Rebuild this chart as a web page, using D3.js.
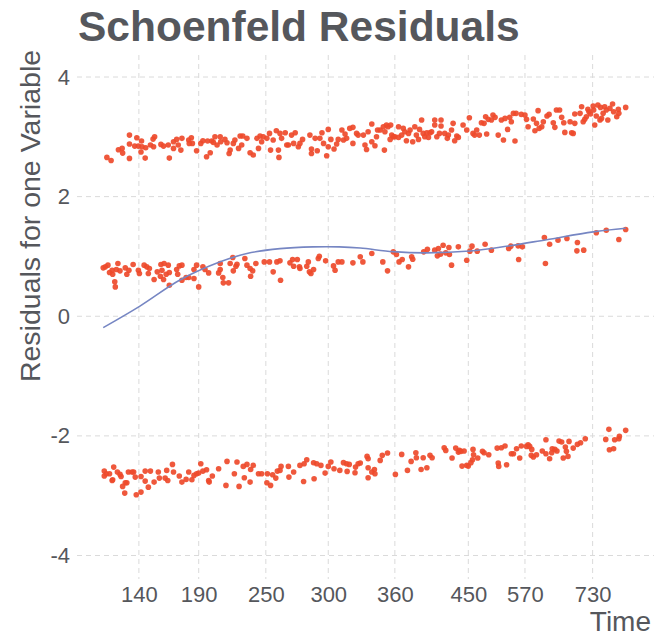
<!DOCTYPE html>
<html><head><meta charset="utf-8">
<script src="https://cdn.jsdelivr.net/npm/d3@7"></script>
<style>body{margin:0;background:#fff;} svg{display:block;font-family:"Liberation Sans",Arial,Helvetica,sans-serif;}</style>
</head><body><svg id="c" width="663" height="636"></svg>
<script>
// transformed time (0..1) and residual values
const upperBand = [
[.007,2.656],[.015,2.605],[.029,2.784],[.036,2.806],[.037,2.728],[.050,3.029],[.050,2.879],[.050,2.639],[.060,2.845],[.064,2.985],
[.067,2.845],[.072,2.745],[.073,2.929],[.074,2.834],[.080,2.644],[.081,2.817],[.090,2.862],[.095,2.962],[.098,3.001],[.096,2.834],
[.110,2.873],[.115,2.845],[.124,2.862],[.126,2.644],[.134,2.918],[.134,2.806],[.140,2.957],[.143,2.862],[.148,2.778],[.150,2.974],
[.163,2.946],[.164,2.890],[.168,2.985],[.170,2.890],[.178,2.767],[.186,2.890],[.190,2.934],[.197,2.667],[.199,2.929],[.204,2.734],
[.207,2.929],[.210,2.907],[.213,3.001],[.217,2.862],[.223,3.001],[.224,2.918],[.232,2.957],[.236,2.901],[.240,2.722],[.242,2.778],
[.248,2.890],[.251,2.946],[.258,2.806],[.261,3.013],[.264,2.862],[.266,3.013],[.274,2.974],[.280,2.734],[.286,2.695],[.293,2.974],
[.296,2.806],[.299,3.013],[.302,2.918],[.305,3.001],[.312,2.974],[.317,3.057],[.319,2.778],[.324,2.946],[.330,3.102],[.334,2.778],
[.335,2.656],[.337,3.057],[.340,2.974],[.347,3.068],[.350,2.862],[.353,2.862],[.359,3.029],[.363,2.890],[.366,3.068],[.372,2.834],
[.375,2.890],[.380,2.957],[.394,3.029],[.397,2.795],[.397,2.722],[.404,2.974],[.408,2.767],[.413,2.974],[.417,3.068],[.420,2.890],
[.426,2.683],[.429,3.124],[.429,2.834],[.434,2.957],[.440,2.795],[.445,2.879],[.448,2.957],[.455,3.113],[.458,2.946],[.461,3.046],
[.464,2.974],[.470,3.141],[.476,3.158],[.476,2.890],[.483,3.057],[.486,3.029],
[.496,3.029],[.499,2.862],[.502,2.789],[.505,3.085],[.512,3.213],[.512,2.918],[.518,2.851],[.521,3.001],[.523,3.113],[.528,3.113],
[.534,3.169],[.536,2.778],[.537,3.085],[.540,3.197],[.543,3.169],[.547,2.957],[.548,3.197],[.550,3.029],[.553,3.001],[.556,3.001],
[.563,3.169],[.563,2.990],[.569,3.029],[.572,3.141],[.575,3.085],[.578,2.934],[.582,3.057],[.585,3.113],[.590,2.918],[.594,3.169],
[.597,3.029],[.601,2.957],[.603,3.124],[.607,3.280],[.610,3.057],[.613,3.001],[.617,3.068],[.620,2.990],[.623,3.068],[.626,3.085],
[.632,3.280],[.632,3.197],[.636,3.001],[.641,3.057],[.644,3.280],[.644,3.180],[.651,3.057],[.656,2.974],[.658,3.029],[.664,3.113],
[.667,3.225],[.670,2.934],[.674,3.013],[.677,2.990],[.686,3.197],[.693,3.113],[.698,3.319],[.705,3.057],[.708,3.029],[.712,3.113],
[.717,3.029],[.721,3.236],[.726,3.225],[.729,3.336],[.731,3.046],[.734,3.292],[.740,3.280],[.743,3.364],[.747,3.325],[.753,3.029],
[.759,3.280],[.763,2.946],[.766,3.308],[.771,3.124],[.775,3.325],[.778,3.252],[.782,3.392],[.785,2.929],[.787,3.392],[.797,3.375],
[.804,3.364],[.807,3.292],[.810,3.169],[.820,3.297],[.823,3.102],[.826,3.225],[.829,3.437],[.831,3.141],[.836,3.169],[.839,3.252],
[.846,3.347],[.850,3.375],[.858,3.236],[.861,3.158],[.864,3.448],[.870,3.448],[.874,3.325],[.878,3.236],[.880,3.074],[.890,3.252],
[.893,3.068],[.896,3.057],[.899,3.225],[.899,3.381],[.909,3.392],[.912,3.503],[.915,3.252],[.918,3.292],[.921,3.336],[.924,3.459],
[.926,3.420],[.929,3.381],[.934,3.515],[.935,3.448],[.937,3.197],[.940,3.347],[.943,3.531],[.947,3.280],[.948,3.492],[.950,3.308],
[.953,3.392],[.956,3.503],[.959,3.448],[.962,3.280],[.966,3.476],[.971,3.548],[.973,3.420],[.979,3.336],[.982,3.459],[.983,3.392],
[.996,3.492]
];
const middleBand = [
[.000,.809],[.004,.826],[.009,.854],[.012,.731],[.017,.770],[.018,.703],[.022,.575],[.023,.491],[.025,.781],[.028,.881],
[.032,.759],[.042,.809],[.045,.703],[.049,.770],[.057,.865],[.067,.770],[.069,.714],[.078,.854],[.083,.826],[.086,.714],
[.088,.798],[.097,.614],[.103,.742],[.109,.669],[.110,.865],[.112,.770],[.115,.614],[.116,.881],[.120,.703],[.124,.854],
[.126,.731],[.126,.519],[.140,.781],[.142,.703],[.145,.842],[.150,.854],[.150,.603],[.158,.647],[.163,.647],[.173,.781],
[.173,.630],[.178,.854],[.182,.491],[.190,.826],[.194,.781],[.201,.725],[.220,.725],[.223,.881],[.223,.781],[.228,.647],
[.229,.558],[.239,.558],[.242,.881],[.247,.982],[.248,.759],[.253,.837],[.255,.870],[.270,.965],[.274,.854],[.280,.798],
[.281,.669],[.285,.759],[.291,.881],[.307,.909],[.317,.909],[.324,.742],[.331,.909],[.337,.926],[.338,.603],[.356,.893],
[.361,.948],[.363,.837],[.370,.948],[.374,.826],[.375,.798],[.388,.837],[.391,.909],[.393,.742],[.396,.714],[.401,.781],
[.410,.965],[.412,1.004],[.424,.926],[.439,.842],[.442,.770],[.448,.909],
[.455,.909],[.476,.893],[.490,.993],[.495,.909],[.512,1.049],[.533,.909],[.542,.759],[.553,1.077],[.559,1.032],[.564,.909],
[.570,.948],[.582,.826],[.588,.993],[.590,.954],[.611,1.077],[.618,1.121],[.632,1.105],[.637,1.010],[.639,1.133],[.643,1.038],
[.648,1.188],[.653,1.060],[.659,1.149],[.660,1.032],[.664,.854],[.677,1.160],[.693,.937],[.699,1.088],[.703,1.172],[.713,1.088],
[.728,1.205],[.740,1.105],[.773,1.133],[.777,1.172],[.791,1.177],[.792,.948],[.799,1.160],[.841,1.317],[.843,.881],[.851,1.205],
[.867,1.272],[.884,1.300],[.904,1.233],[.903,1.093],[.916,1.105],[.940,1.395],[.959,1.439],[.983,1.283],[.996,1.450]
];
const lowerBand = [
[.002,-2.589],[.002,-2.672],[.006,-2.633],[.012,-2.633],[.017,-2.745],[.018,-2.734],[.020,-2.522],[.027,-2.605],[.032,-2.644],[.034,-2.678],
[.037,-2.845],[.041,-2.957],[.042,-2.784],[.045,-2.784],[.048,-2.605],[.055,-2.605],[.058,-2.605],[.061,-2.689],[.063,-2.985],[.072,-2.678],
[.072,-2.940],[.080,-2.589],[.080,-2.756],[.086,-2.857],[.090,-2.589],[.097,-2.773],[.105,-2.605],[.107,-2.706],[.118,-2.706],[.121,-2.577],
[.123,-2.745],[.132,-2.477],[.134,-2.605],[.145,-2.672],[.150,-2.773],[.158,-2.728],[.163,-2.605],[.169,-2.734],[.173,-2.661],[.178,-2.633],
[.182,-2.622],[.186,-2.466],[.190,-2.589],[.197,-2.566],[.201,-2.745],[.202,-2.773],[.208,-2.672],[.220,-2.550],[.234,-2.828],[.236,-2.427],
[.250,-2.633],[.255,-2.438],[.259,-2.845],[.267,-2.510],[.269,-2.700],[.274,-2.477],[.280,-2.773],[.281,-2.561],[.286,-2.494],[.296,-2.633],
[.302,-2.633],[.312,-2.784],[.313,-2.633],[.319,-2.828],[.323,-2.650],[.329,-2.706],[.332,-2.589],[.337,-2.577],[.339,-2.510],[.353,-2.510],
[.354,-2.689],[.363,-2.605],[.375,-2.494],[.382,-2.762],[.383,-2.466],[.388,-2.399],[.401,-2.449],[.402,-2.717],[.407,-2.466],[.415,-2.494],
[.423,-2.622],[.429,-2.510],[.434,-2.438],[.440,-2.550],
[.451,-2.577],[.458,-2.448],[.464,-2.466],[.465,-2.594],[.469,-2.477],[.480,-2.616],[.481,-2.522],[.486,-2.466],[.490,-2.454],[.503,-2.343],
[.505,-2.382],[.505,-2.533],[.505,-2.700],[.512,-2.605],[.517,-2.561],[.518,-2.633],[.528,-2.410],[.532,-2.326],[.542,-2.287],[.557,-2.644],
[.569,-2.310],[.580,-2.577],[.587,-2.427],[.596,-2.282],[.597,-2.365],[.606,-2.561],[.610,-2.365],[.617,-2.533],[.623,-2.326],[.627,-2.365],
[.650,-2.198],[.653,-2.243],[.665,-2.371],[.672,-2.204],[.677,-2.271],[.679,-2.243],[.682,-2.259],[.688,-2.254],[.684,-2.505],[.693,-2.494],
[.696,-2.505],[.701,-2.448],[.705,-2.226],[.706,-2.315],[.704,-2.399],[.714,-2.371],[.723,-2.259],[.726,-2.282],[.735,-2.315],[.751,-2.204],
[.753,-2.454],[.754,-2.510],[.759,-2.198],[.766,-2.170],[.769,-2.483],[.778,-2.299],[.782,-2.299],[.788,-2.215],[.794,-2.371],[.797,-2.170],
[.807,-2.176],[.810,-2.148],[.813,-2.176],[.817,-2.226],[.816,-2.326],[.820,-2.354],[.826,-2.315],[.837,-2.254],[.844,-2.064],[.844,-2.299],
[.851,-2.382],[.855,-2.282],[.856,-2.215],[.861,-2.226],[.865,-2.254],[.869,-2.087],[.874,-2.103],[.877,-2.371],[.881,-2.187],[.883,-2.259],
[.886,-2.343],[.888,-2.092],[.896,-2.204],[.904,-2.142],[.910,-2.114],[.919,-2.047],[.958,-2.059],[.964,-1.891],[.965,-2.232],[.973,-2.215],
[.975,-2.064],[.983,-2.047],[.984,-2.008],[.996,-1.908]
];
const smoothFit = [
[0,-0.19],[0.07,0.17],[0.147,0.61],[0.223,0.91],[0.274,1.05],[0.337,1.13],[0.40,1.16],[0.45,1.16],[0.49,1.14],
[0.553,1.08],[0.617,1.06],[0.699,1.09],[0.769,1.17],[0.845,1.28],[0.934,1.41],[0.996,1.47]
];
const xTickPos = [0.068,0.182,0.310,0.429,0.556,0.696,0.804,0.933];
const xTickLabels = ["140","190","250","300","360","450","570","730"];
const yTicks = [-4,-2,0,2,4];
const titleText = "Schoenfeld Residuals";
const xTitle = "Time";
const yTitle = "Residuals for one Variable";

const svg = d3.select("#c");
const P = {left:77, right:654, top:55, bottom:579};
const x = d3.scaleLinear().domain([-0.05,1.05]).range([P.left,P.right]);
const y = d3.scaleLinear().domain([-4,4]).range([555.5,77]);
const textCol = "#55575c";
const gridCol = "#dadada";

// grid
const g = svg.append("g");
g.selectAll("line.h").data(yTicks).join("line")
  .attr("x1",P.left).attr("x2",P.right)
  .attr("y1",d=>y(d)).attr("y2",d=>y(d))
  .attr("stroke",gridCol).attr("stroke-width",1).attr("stroke-dasharray","5,4");
g.selectAll("line.v").data(xTickPos).join("line")
  .attr("y1",P.top).attr("y2",P.bottom)
  .attr("x1",d=>x(d)).attr("x2",d=>x(d))
  .attr("stroke",gridCol).attr("stroke-width",1).attr("stroke-dasharray","5,4");

// axes
const xAxis = svg.append("g").attr("transform",`translate(0,${P.bottom})`)
  .call(d3.axisBottom(x).tickValues(xTickPos).tickFormat((d,i)=>xTickLabels[i]).tickSize(0).tickPadding(7));
const yAxis = svg.append("g").attr("transform",`translate(${P.left},0)`)
  .call(d3.axisLeft(y).tickValues(yTicks).tickFormat(d=>String(d)).tickSize(0).tickPadding(7));
[xAxis,yAxis].forEach(a=>{
  a.select(".domain").remove();
  a.selectAll("text").attr("fill",textCol).style("font-size","22px").style("font-family","'Liberation Sans',Arial,sans-serif");
});

// points
const allPts = upperBand.concat(middleBand, lowerBand);
svg.append("g").selectAll("circle").data(allPts).join("circle")
  .attr("cx",d=>x(d[0])).attr("cy",d=>y(d[1])).attr("r",2.8)
  .attr("fill","#ee4a2b").attr("fill-opacity",0.92);

// smooth
svg.append("path").datum(smoothFit)
  .attr("d",d3.line().x(d=>x(d[0])).y(d=>y(d[1])).curve(d3.curveCatmullRom.alpha(0.5)))
  .attr("fill","none").attr("stroke","#7686c3").attr("stroke-width",1.6);

// titles
svg.append("text").attr("x",78).attr("y",41).text(titleText)
  .attr("fill",textCol).style("font-size","42.5px").style("font-weight","bold");
svg.append("text").attr("x",651).attr("y",631).attr("text-anchor","end").text(xTitle)
  .attr("fill",textCol).style("font-size","28px");
svg.append("text").attr("transform","translate(40,216) rotate(-90)").attr("text-anchor","middle").text(yTitle)
  .attr("fill",textCol).style("font-size","28.5px");
</script></body></html>
